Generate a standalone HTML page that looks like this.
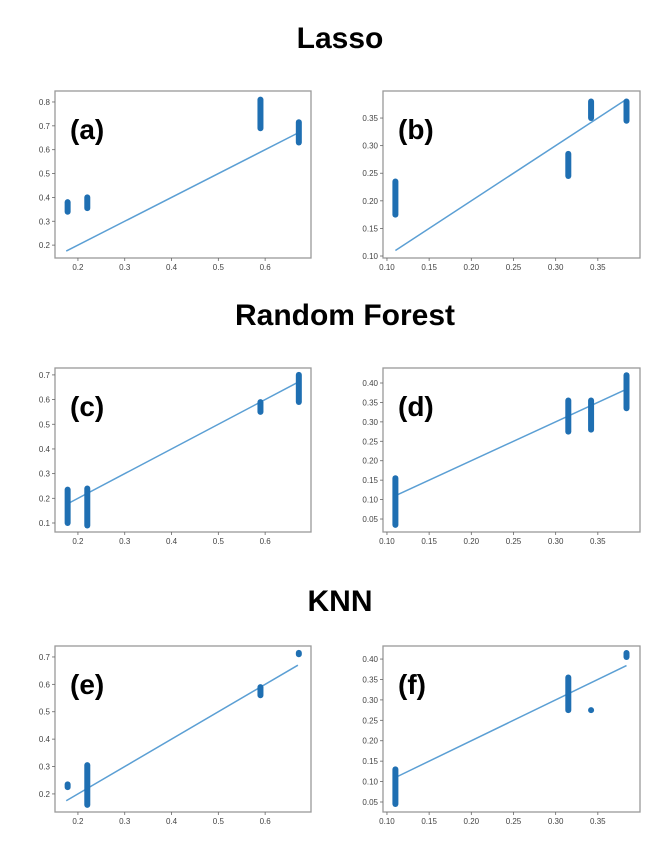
<!DOCTYPE html>
<html><head><meta charset="utf-8"><style>
html,body{margin:0;padding:0;background:#fff;}
svg{display:block;font-family:"Liberation Sans",sans-serif;}
</style></head><body>
<svg id="fig" width="661" height="843" viewBox="0 0 661 843" xmlns="http://www.w3.org/2000/svg">
<text x="340" y="48" text-anchor="middle" font-size="30" font-weight="bold">Lasso</text>
<text x="345" y="325" text-anchor="middle" font-size="30" font-weight="bold">Random Forest</text>
<text x="340" y="611" text-anchor="middle" font-size="30" font-weight="bold">KNN</text>
</svg>
<script>
// shared data
const xsLeft = [0.178, 0.22, 0.59, 0.672];
const xsRight = [0.11, 0.315, 0.342, 0.384];
const xTicksLeft = [0.2, 0.3, 0.4, 0.5, 0.6];
const xTicksRight = [0.10, 0.15, 0.20, 0.25, 0.30, 0.35];
const lowA = [0.34, 0.355, 0.69, 0.63];  const highA = [0.38, 0.40, 0.81, 0.715];
const lowB = [0.175, 0.245, 0.35, 0.345]; const highB = [0.235, 0.285, 0.38, 0.38];
const lowC = [0.10, 0.09, 0.55, 0.59];   const highC = [0.235, 0.24, 0.59, 0.70];
const lowD = [0.035, 0.275, 0.28, 0.335]; const highD = [0.155, 0.355, 0.355, 0.42];
const lowE = [0.225, 0.16, 0.56, 0.71];  const highE = [0.235, 0.305, 0.59, 0.715];
const lowF = [0.045, 0.275, 0.275, 0.405]; const highF = [0.13, 0.355, 0.275, 0.415];
const fitLeft = [0.175, 0.67];
const fitRight = [0.11, 0.384];
const yTicksA = [0.2,0.3,0.4,0.5,0.6,0.7,0.8];
const yTicksB = [0.10,0.15,0.20,0.25,0.30,0.35];
const yTicksC = [0.1,0.2,0.3,0.4,0.5,0.6,0.7];
const yTicksD = [0.05,0.10,0.15,0.20,0.25,0.30,0.35,0.40];
const yTicksE = [0.2,0.3,0.4,0.5,0.6,0.7];
const yTicksF = [0.05,0.10,0.15,0.20,0.25,0.30,0.35,0.40];

const NS='http://www.w3.org/2000/svg';
const svg=document.getElementById('fig');
function mk(tag,attrs,parent){const e=document.createElementNS(NS,tag);for(const k in attrs)e.setAttribute(k,attrs[k]);(parent||svg).appendChild(e);return e;}

const panels=[
 {id:'a',L:55,R:311,T:91,B:258,xd:[0.151,0.698],yd:[0.146,0.846],xs:xsLeft,lo:lowA,hi:highA,xt:xTicksLeft,yt:yTicksA,fit:fitLeft,dec:1},
 {id:'b',L:383,R:640,T:91,B:258,xd:[0.0953,0.4],yd:[0.0964,0.399],xs:xsRight,lo:lowB,hi:highB,xt:xTicksRight,yt:yTicksB,fit:fitRight,dec:2},
 {id:'c',L:55,R:311,T:368,B:532,xd:[0.151,0.698],yd:[0.0635,0.728],xs:xsLeft,lo:lowC,hi:highC,xt:xTicksLeft,yt:yTicksC,fit:fitLeft,dec:1},
 {id:'d',L:383,R:640,T:368,B:532,xd:[0.0953,0.4],yd:[0.0166,0.4386],xs:xsRight,lo:lowD,hi:highD,xt:xTicksRight,yt:yTicksD,fit:fitRight,dec:2},
 {id:'e',L:55,R:311,T:646,B:812,xd:[0.151,0.698],yd:[0.134,0.74],xs:xsLeft,lo:lowE,hi:highE,xt:xTicksLeft,yt:yTicksE,fit:fitLeft,dec:1},
 {id:'f',L:383,R:640,T:646,B:812,xd:[0.0953,0.4],yd:[0.0255,0.432],xs:xsRight,lo:lowF,hi:highF,xt:xTicksRight,yt:yTicksF,fit:fitRight,dec:2}
];
panels.forEach(p=>{
 const g=mk('g',{});
 
 
 const sx=v=>p.L+(v-p.xd[0])/(p.xd[1]-p.xd[0])*(p.R-p.L);
 const sy=v=>p.B-(v-p.yd[0])/(p.yd[1]-p.yd[0])*(p.B-p.T);
 const box=mk('rect',{x:p.L,y:p.T,width:p.R-p.L,height:p.B-p.T,fill:'none',stroke:'#999',
 'stroke-width':1.3},g);
 
 
 p.xt.forEach(t=>{const x=sx(t);
  mk('line',{x1:x,x2:x,y1:p.B,y2:p.B+3,stroke:'#666','stroke-width':0.8},g);
  const tx=mk('text',{x:x,y:p.B+12,'text-anchor':'middle','font-size':8,fill:'#444'},g);
  tx.textContent=t.toFixed(p.dec);
  
  });
 p.yt.forEach(t=>{const y=sy(t);
  mk('line',{x1:p.L-3,x2:p.L,y1:y,y2:y,stroke:'#666','stroke-width':0.8},g);
  const tx=mk('text',{x:p.L-5,y:y+3,'text-anchor':'end','font-size':8,fill:'#444'},g);
  tx.textContent=t.toFixed(p.dec);
  
  });
 const fl=mk('line',{x1:sx(p.fit[0]),y1:sy(p.fit[0]),x2:sx(p.fit[1]),y2:sy(p.fit[1]),stroke:'#5b9fd4','stroke-width':1.5},g);
 
 
 p.xs.forEach((xv,i)=>{
  const s=mk('line',{x1:sx(xv),x2:sx(xv),y1:sy(p.lo[i]),y2:sy(p.hi[i])+0.01,stroke:'#1f6fb2','stroke-width':6,'stroke-linecap':'round'},g);
  
  });
 const lb=mk('text',{x:p.L+15,y:p.T+48,'font-size':28,'font-weight':'bold',fill:'#000'},g);
 lb.textContent='('+p.id+')';
 
 
});
</script>
</body></html>
